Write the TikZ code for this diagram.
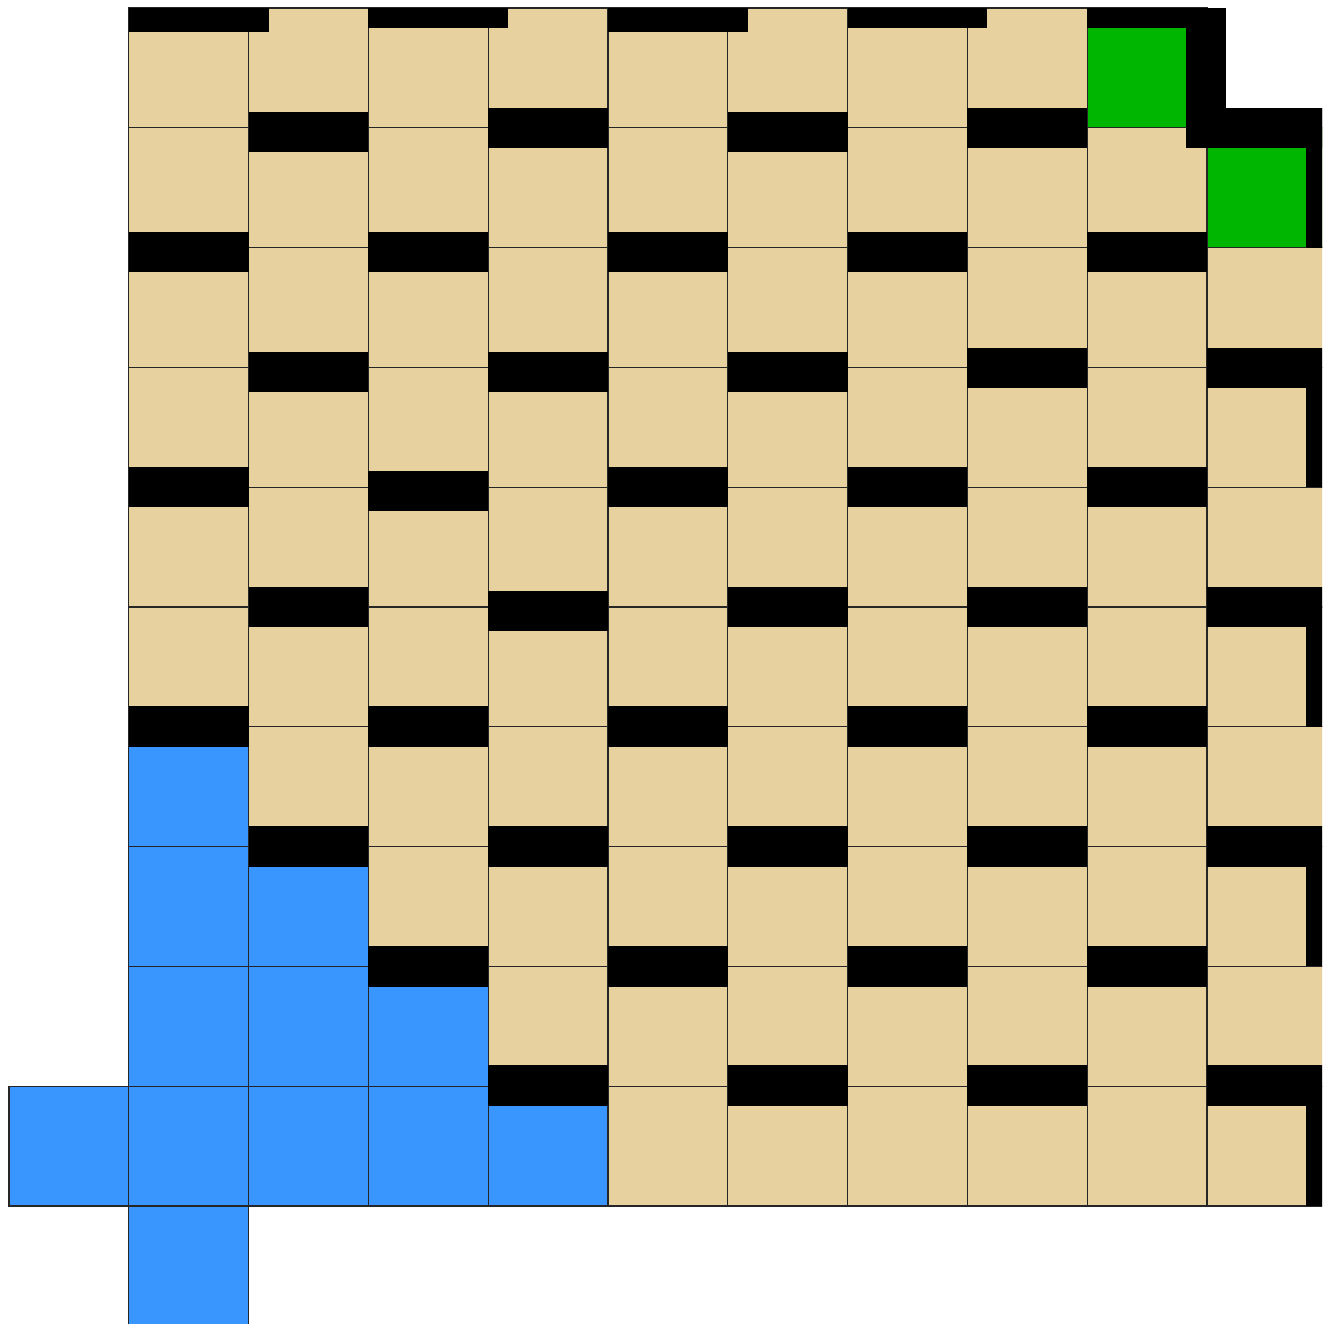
\documentclass[tikz,border=0pt]{standalone}
\usepackage{tikz}
\definecolor{tancell}{RGB}{230,209,159}
\definecolor{bluecell}{RGB}{58,150,255}
\definecolor{greencell}{RGB}{0,182,0}
\newcommand{\cs}{119.8}
\begin{document}
\begin{tikzpicture}[x=1pt,y=-1pt,
  tile/.style={draw=black!85,line width=1.1pt},
  tantile/.style={tile,fill=tancell},
  bluetile/.style={tile,fill=bluecell},
  greentile/.style={tile,fill=greencell},
  wall/.style={fill=black}]
\clip (0,0) rectangle (1322,1324);
\fill[white] (0,0) rectangle (1322,1324);
% tan tiles
\foreach \c in {1,...,9}
  \draw[tantile] ({9+\cs*\c},8) rectangle +(\cs,\cs);
\foreach \r in {1,...,9}
  \foreach \c in {1,...,10}
    \draw[tantile] ({9+\cs*\c},{8+\cs*\r}) rectangle +(\cs,\cs);
% blue tiles
\foreach \c/\r in {1/6,1/7,2/7,1/8,2/8,3/8,0/9,1/9,2/9,3/9,4/9,1/10}
  \draw[bluetile] ({9+\cs*\c},{8+\cs*\r}) rectangle +(\cs,\cs);
% green tiles
\foreach \c/\r in {9/0,10/1}
  \draw[greentile] ({9+\cs*\c},{8+\cs*\r}) rectangle +(\cs,\cs);
% walls on the top row
\fill[wall] (129,8) rectangle (269,32);
\fill[wall] (368.4,8) rectangle (508,28);
\fill[wall] (608,8) rectangle (748,32);
\fill[wall] (847.6,8) rectangle (987,28);
\fill[wall] (1087.2,8) rectangle (1226,28);
\fill[wall] (1186,8) rectangle (1226,108);
\fill[wall] (1186,108) rectangle (1330,148);
\fill[wall] (1306,108) rectangle (1330,248);
% horizontal walls: column / top / bottom
\foreach \c/\ya/\yb in {
  2/112/152, 4/108/148, 6/112/152, 8/108/148,
  1/232/272, 3/232/272, 5/232/272, 7/232/272, 9/232/272,
  2/352/392, 4/352/392, 6/352/392, 8/348/388, 10/348/388,
  1/467/507, 3/471/511, 5/467/507, 7/467/507, 9/467/507,
  2/587/627, 4/591/631, 6/587/627, 8/587/627, 10/587/627,
  1/706/747, 3/706/747, 5/706/747, 7/706/747, 9/706/747,
  2/826/867, 4/826/867, 6/826/867, 8/826/867, 10/826/867,
  3/946/987, 5/946/987, 7/946/987, 9/946/987,
  4/1065/1106, 6/1065/1106, 8/1065/1106, 10/1065/1106}
  \fill[wall] ({9+\cs*\c},\ya) rectangle ({9+\cs*(\c+1)},\yb);
% right-hand wall strips
\foreach \ya/\yb in {388/487, 627/727, 867/966, 1106/1206}
  \fill[wall] (1306,\ya) rectangle (1330,\yb);
\end{tikzpicture}
\end{document}
